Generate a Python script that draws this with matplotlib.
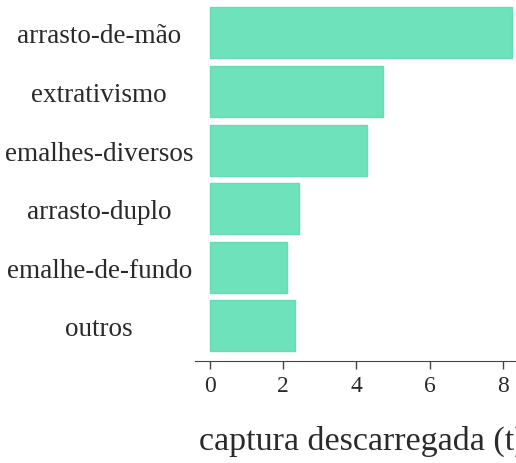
import matplotlib
matplotlib.use('Agg')
import matplotlib.pyplot as plt

# dados
categorias = ['arrasto-de-mão', 'extrativismo', 'emalhes-diversos',
              'arrasto-duplo', 'emalhe-de-fundo', 'outros']
captura = [8.25, 4.72, 4.28, 2.42, 2.1, 2.32]
ticks_x = [0, 2, 4, 6, 8]

COR_BARRA = '#6de2bb'

plt.rcParams['font.family'] = ['Liberation Serif', 'DejaVu Serif']

fig = plt.figure(figsize=(5.16, 4.64), dpi=100)
ax = fig.add_axes([195/516, 102/464, 1 - 195/516, 362/464])

pos = list(range(len(categorias)))
ax.barh(pos, captura, height=0.87, color=COR_BARRA, edgecolor='#66dcb4', linewidth=1)

ax.set_xlim(-0.41, 8.36)
ax.set_ylim(5.6, -0.58)
ax.set_yticks(pos)
ax.set_yticklabels(categorias, fontsize=19.5, color='#2a2a2a')
for lab in ax.get_yticklabels():
    lab.set_horizontalalignment('center')
ax.tick_params(axis='y', length=0, pad=69)

ax.set_xticks(ticks_x)
ax.set_xticklabels([str(t) for t in ticks_x], fontsize=17, color='#2a2a2a')
ax.tick_params(axis='x', length=6, width=1, color='#444444', pad=4)

ax.set_xlabel('captura descarregada (t)', fontsize=24.5, color='#2a2a2a', labelpad=21)
ax.xaxis.label.set_x(0.52)

for s in ['top', 'right', 'left']:
    ax.spines[s].set_visible(False)
ax.spines['bottom'].set_color('#444444')

fig.savefig('out.png', dpi=100)
